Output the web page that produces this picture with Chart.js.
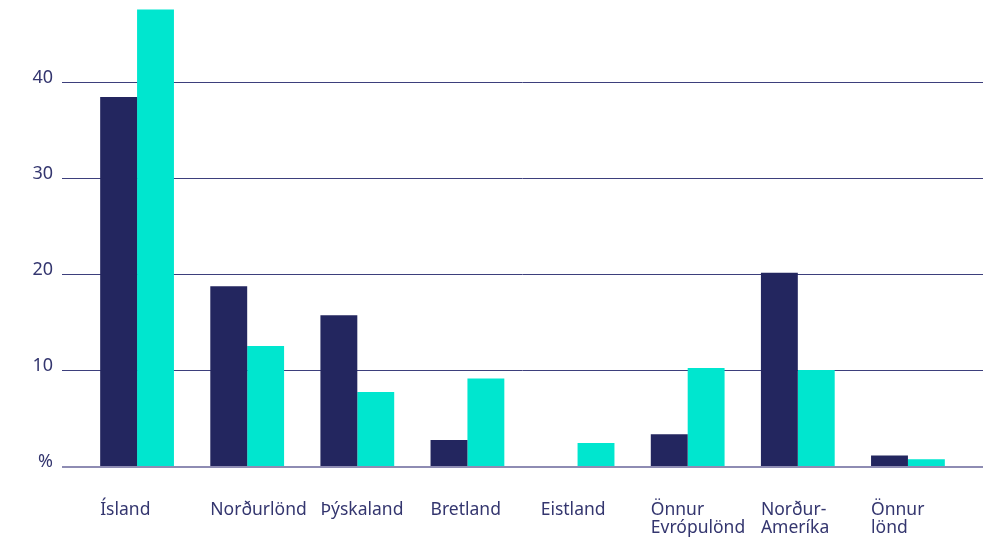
<!DOCTYPE html>
<html>
<head>
<meta charset="utf-8">
<script src="https://cdn.jsdelivr.net/npm/chart.js@4/dist/chart.umd.min.js"></script>
<style>
  html, body { margin: 0; padding: 0; background: #fff; }
  #wrap { width: 1000px; height: 540px; }
</style>
</head>
<body>
<div id="wrap"><canvas id="originChart"></canvas></div>
<script>
// Data
const categories = [
    ["Ísland"],
    ["Norðurlönd"],
    ["Þýskaland"],
    ["Bretland"],
    ["Eistland"],
    ["Önnur", "Evrópulönd"],
    ["Norður-", "Ameríka"],
    ["Önnur", "lönd"]
];
const seriesA = [38.4, 18.7, 15.7, 2.7, 0, 3.3, 20.1, 1.1];
const seriesB = [47.5, 12.5, 7.7, 9.1, 2.4, 10.2, 10.0, 0.7];
const yTicks = [0, 10, 20, 30, 40];
const yTickLabels = ["%", "10", "20", "30", "40"];

const navy = "#23265f";
const teal = "#00e6cf";
const textColor = "#34366f";

// grid lines and labels drawn from the scales
const customAxes = {
    id: "customAxes",
    beforeDatasetsDraw(chart) {
        const ctx = chart.ctx;
        const y = chart.scales.y;
        ctx.save();
        ctx.strokeStyle = "#3d3f7c";
        ctx.lineWidth = 1;
        yTicks.forEach(v => {
            if (v === 0) return;
            const py = Math.round(y.getPixelForValue(v)) + 0.5;
            ctx.beginPath();
            ctx.moveTo(62, py);
            ctx.lineTo(983, py);
            ctx.stroke();
        });
        ctx.restore();
    },
    afterDatasetsDraw(chart) {
        const ctx = chart.ctx;
        const x = chart.scales.x;
        const y = chart.scales.y;
        ctx.save();
        // baseline
        const by = y.getPixelForValue(0) + 1;
        ctx.strokeStyle = "#8e8cb3";
        ctx.lineWidth = 2;
        ctx.beginPath();
        ctx.moveTo(62, by);
        ctx.lineTo(983, by);
        ctx.stroke();

        // y labels
        ctx.fillStyle = textColor;
        ctx.font = "18px 'Noto Sans'";
        ctx.textAlign = "right";
        ctx.textBaseline = "alphabetic";
        yTicks.forEach((v, i) => {
            ctx.fillText(yTickLabels[i], 53, y.getPixelForValue(v) + 1);
        });

        // x labels, left aligned at group start
        ctx.font = "17.5px 'Noto Sans'";
        ctx.textAlign = "left";
        const half = x.width / categories.length * 0.67 / 2;
        categories.forEach((lines, i) => {
            const px = x.getPixelForValue(i) - half;
            lines.forEach((t, j) => {
                ctx.fillText(t, px, 515 + j * 18);
            });
        });
        ctx.restore();
    }
};

new Chart(document.getElementById("originChart"), {
    type: "bar",
    data: {
        labels: categories,
        datasets: [
            { label: "A", data: seriesA, backgroundColor: navy },
            { label: "B", data: seriesB, backgroundColor: teal }
        ]
    },
    options: {
        responsive: true,
        maintainAspectRatio: false,
        animation: false,
        layout: {
            padding: { left: 82, right: 37, top: 0, bottom: 74 }
        },
        datasets: {
            bar: { categoryPercentage: 0.67, barPercentage: 1.0 }
        },
        scales: {
            x: { display: false },
            y: { display: false, min: 0, max: 48.5 }
        },
        plugins: {
            legend: { display: false },
            tooltip: { enabled: false }
        }
    },
    plugins: [customAxes]
});
</script>
</body>
</html>
